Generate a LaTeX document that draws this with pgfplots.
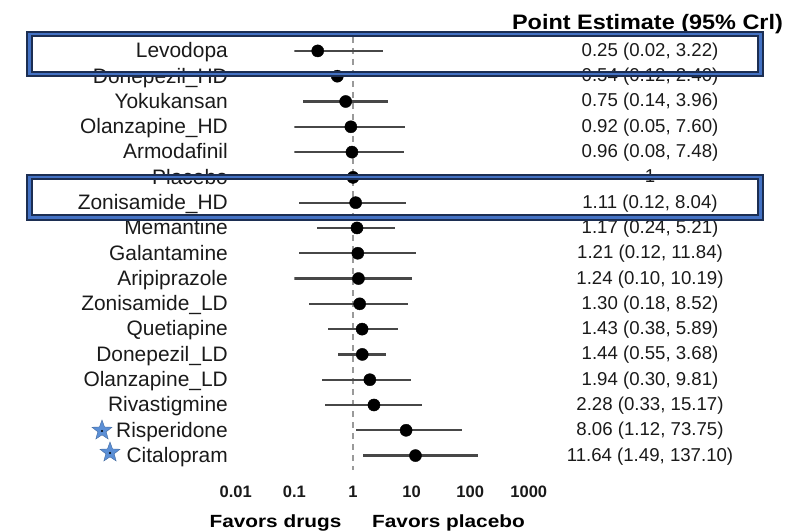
\documentclass[border=0pt]{standalone}
\usepackage{pgfplots}
\pgfplotsset{compat=1.18}
\usepackage{pgfplotstable}
\usepackage{fontspec}
\setmainfont{Liberation Sans}
\newfontfamily\hdrfont[FakeStretch=1.12]{Liberation Sans Bold}
\newfontfamily\favfont[FakeStretch=1.18]{Liberation Sans Bold}
\newfontfamily\tickfont{Liberation Sans Bold}
\usetikzlibrary{shapes.geometric}
\definecolor{txt}{HTML}{1A1A1A}
\definecolor{ci}{HTML}{474747}
\definecolor{dashc}{HTML}{9A9A9A}
\definecolor{navy}{HTML}{1C2E52}
\definecolor{boxblue}{HTML}{4472C4}
\definecolor{starblue}{HTML}{5B8FD6}

\pgfplotstableread{
row est lo hi
0 0.25 0.02 3.22
1 0.54 0.12 2.40
2 0.75 0.14 3.96
3 0.92 0.05 7.60
4 0.96 0.08 7.48
5 1.00 1.00 1.00
6 1.11 0.12 8.04
7 1.17 0.24 5.21
8 1.21 0.12 11.84
9 1.24 0.10 10.19
10 1.30 0.18 8.52
11 1.43 0.38 5.89
12 1.44 0.55 3.68
13 1.94 0.30 9.81
14 2.28 0.33 15.17
15 8.06 1.12 73.75
16 11.64 1.49 137.10
}\data

\begin{document}
\begin{tikzpicture}[
  lab/.style={anchor=base east, font=\fontsize{21}{24}\selectfont, text=txt, inner sep=0pt},
  val/.style={anchor=base, font=\fontsize{18.7}{22}\selectfont, text=txt, inner sep=0pt},
]
\useasboundingbox (-294.4bp,-62bp) rectangle (491.6bp,470bp);
\begin{axis}[
  at={(0,0)}, anchor=south west,
  xmode=log, log basis x=10,
  scale only axis, width=234.4bp, height=433bp,
  xmin=0.1, xmax=1000, ymin=-0.55, ymax=16.57, y dir=reverse,
  axis line style={draw=none},
  ytick=\empty,
  xtick={0.1,1,10,100,1000}, xticklabels={0.1,1,10,100,1000},
  major tick length=0pt,
  xticklabel style={font=\tickfont\fontsize{16.6}{18}\selectfont, text=txt, anchor=base, yshift=-27bp, inner sep=0pt},
  clip mode=individual,
]
\addplot[dashc, line width=1.5bp, dash pattern=on 6bp off 5bp, forget plot] coordinates {(1,-0.55) (1,16.57)};
\addplot[draw=none, mark=none, forget plot,
  error bars/.cd, x dir=both, x explicit, error mark=none,
  error bar style={draw=ci, line width=2.2bp, solid}]
  table[x=est, y=row, x error plus expr=\thisrow{hi}-\thisrow{est}, x error minus expr=\thisrow{est}-\thisrow{lo}] {\data};
\addplot[only marks, mark=*, mark size=6.1pt, black] table[x=est, y=row] {\data};

\node[anchor=base, font=\tickfont\fontsize{16.6}{18}\selectfont, text=txt, inner sep=0pt, yshift=-27bp] at (axis cs:0.01,16.57) {0.01};

\node[lab] at ([xshift=-66.4bp,yshift=-6.8bp]axis cs:0.1,0) {Levodopa};
\node[lab] at ([xshift=-66.4bp,yshift=-6.8bp]axis cs:0.1,1) {Donepezil\_HD};
\node[lab] at ([xshift=-66.4bp,yshift=-6.8bp]axis cs:0.1,2) {Yokukansan};
\node[lab] at ([xshift=-66.4bp,yshift=-6.8bp]axis cs:0.1,3) {Olanzapine\_HD};
\node[lab] at ([xshift=-66.4bp,yshift=-6.8bp]axis cs:0.1,4) {Armodafinil};
\node[lab] at ([xshift=-66.4bp,yshift=-6.8bp]axis cs:0.1,5) {Placebo};
\node[lab] at ([xshift=-66.4bp,yshift=-6.8bp]axis cs:0.1,6) {Zonisamide\_HD};
\node[lab] at ([xshift=-66.4bp,yshift=-6.8bp]axis cs:0.1,7) {Memantine};
\node[lab] at ([xshift=-66.4bp,yshift=-6.8bp]axis cs:0.1,8) {Galantamine};
\node[lab] at ([xshift=-66.4bp,yshift=-6.8bp]axis cs:0.1,9) {Aripiprazole};
\node[lab] at ([xshift=-66.4bp,yshift=-6.8bp]axis cs:0.1,10) {Zonisamide\_LD};
\node[lab] at ([xshift=-66.4bp,yshift=-6.8bp]axis cs:0.1,11) {Quetiapine};
\node[lab] at ([xshift=-66.4bp,yshift=-6.8bp]axis cs:0.1,12) {Donepezil\_LD};
\node[lab] at ([xshift=-66.4bp,yshift=-6.8bp]axis cs:0.1,13) {Olanzapine\_LD};
\node[lab] at ([xshift=-66.4bp,yshift=-6.8bp]axis cs:0.1,14) {Rivastigmine};
\node[lab] at ([xshift=-66.4bp,yshift=-6.8bp]axis cs:0.1,15) {Risperidone};
\node[lab] at ([xshift=-66.4bp,yshift=-6.8bp]axis cs:0.1,16) {Citalopram};

\node[val] at ([xshift=355.6bp,yshift=-5.5bp]axis cs:0.1,0) {0.25 (0.02, 3.22)};
\node[val] at ([xshift=355.6bp,yshift=-5.5bp]axis cs:0.1,1) {0.54 (0.12, 2.40)};
\node[val] at ([xshift=355.6bp,yshift=-5.5bp]axis cs:0.1,2) {0.75 (0.14, 3.96)};
\node[val] at ([xshift=355.6bp,yshift=-5.5bp]axis cs:0.1,3) {0.92 (0.05, 7.60)};
\node[val] at ([xshift=355.6bp,yshift=-5.5bp]axis cs:0.1,4) {0.96 (0.08, 7.48)};
\node[val] at ([xshift=355.6bp,yshift=-5.5bp]axis cs:0.1,5) {1};
\node[val] at ([xshift=355.6bp,yshift=-5.5bp]axis cs:0.1,6) {1.11 (0.12, 8.04)};
\node[val] at ([xshift=355.6bp,yshift=-5.5bp]axis cs:0.1,7) {1.17 (0.24, 5.21)};
\node[val] at ([xshift=355.6bp,yshift=-5.5bp]axis cs:0.1,8) {1.21 (0.12, 11.84)};
\node[val] at ([xshift=355.6bp,yshift=-5.5bp]axis cs:0.1,9) {1.24 (0.10, 10.19)};
\node[val] at ([xshift=355.6bp,yshift=-5.5bp]axis cs:0.1,10) {1.30 (0.18, 8.52)};
\node[val] at ([xshift=355.6bp,yshift=-5.5bp]axis cs:0.1,11) {1.43 (0.38, 5.89)};
\node[val] at ([xshift=355.6bp,yshift=-5.5bp]axis cs:0.1,12) {1.44 (0.55, 3.68)};
\node[val] at ([xshift=355.6bp,yshift=-5.5bp]axis cs:0.1,13) {1.94 (0.30, 9.81)};
\node[val] at ([xshift=355.6bp,yshift=-5.5bp]axis cs:0.1,14) {2.28 (0.33, 15.17)};
\node[val] at ([xshift=355.6bp,yshift=-5.5bp]axis cs:0.1,15) {8.06 (1.12, 73.75)};
\node[val] at ([xshift=355.6bp,yshift=-5.5bp]axis cs:0.1,16) {11.64 (1.49, 137.10)};

\node[anchor=base, font=\hdrfont\fontsize{21}{24}\selectfont, text=black, inner sep=0pt] at ([xshift=353.1bp,yshift=21.7bp]axis cs:0.1,0) {Point Estimate (95\% Crl)};
\end{axis}

% favours labels
\node[anchor=base, font=\favfont\fontsize{17.7}{20}\selectfont, text=black, inner sep=0pt] at (-18.9bp,-57bp) {Favors drugs};
\node[anchor=base, font=\favfont\fontsize{17.7}{20}\selectfont, text=black, inner sep=0pt] at (154.1bp,-57bp) {Favors placebo};

% stars
\node[star, star points=5, star point ratio=2.4, fill=starblue, draw=starblue!75!black, line width=0.4bp, minimum size=21bp, inner sep=0pt] at (-192.4bp,39.5bp) {};
\fill[black] (-192.4bp,39bp) circle (1.2bp);
\node[star, star points=5, star point ratio=2.4, fill=starblue, draw=starblue!75!black, line width=0.4bp, minimum size=21bp, inner sep=0pt] at (-184.4bp,17.5bp) {};
\fill[black] (-184.4bp,17bp) circle (1.2bp);

% highlight boxes
\draw[navy, line width=1.8bp, double=boxblue, double distance=2.6bp] (-264.9bp,436bp) rectangle (466.1bp,396bp);
\draw[navy, line width=1.8bp, double=boxblue, double distance=2.6bp] (-264.9bp,293bp) rectangle (466.1bp,252.5bp);
\end{tikzpicture}
\end{document}
